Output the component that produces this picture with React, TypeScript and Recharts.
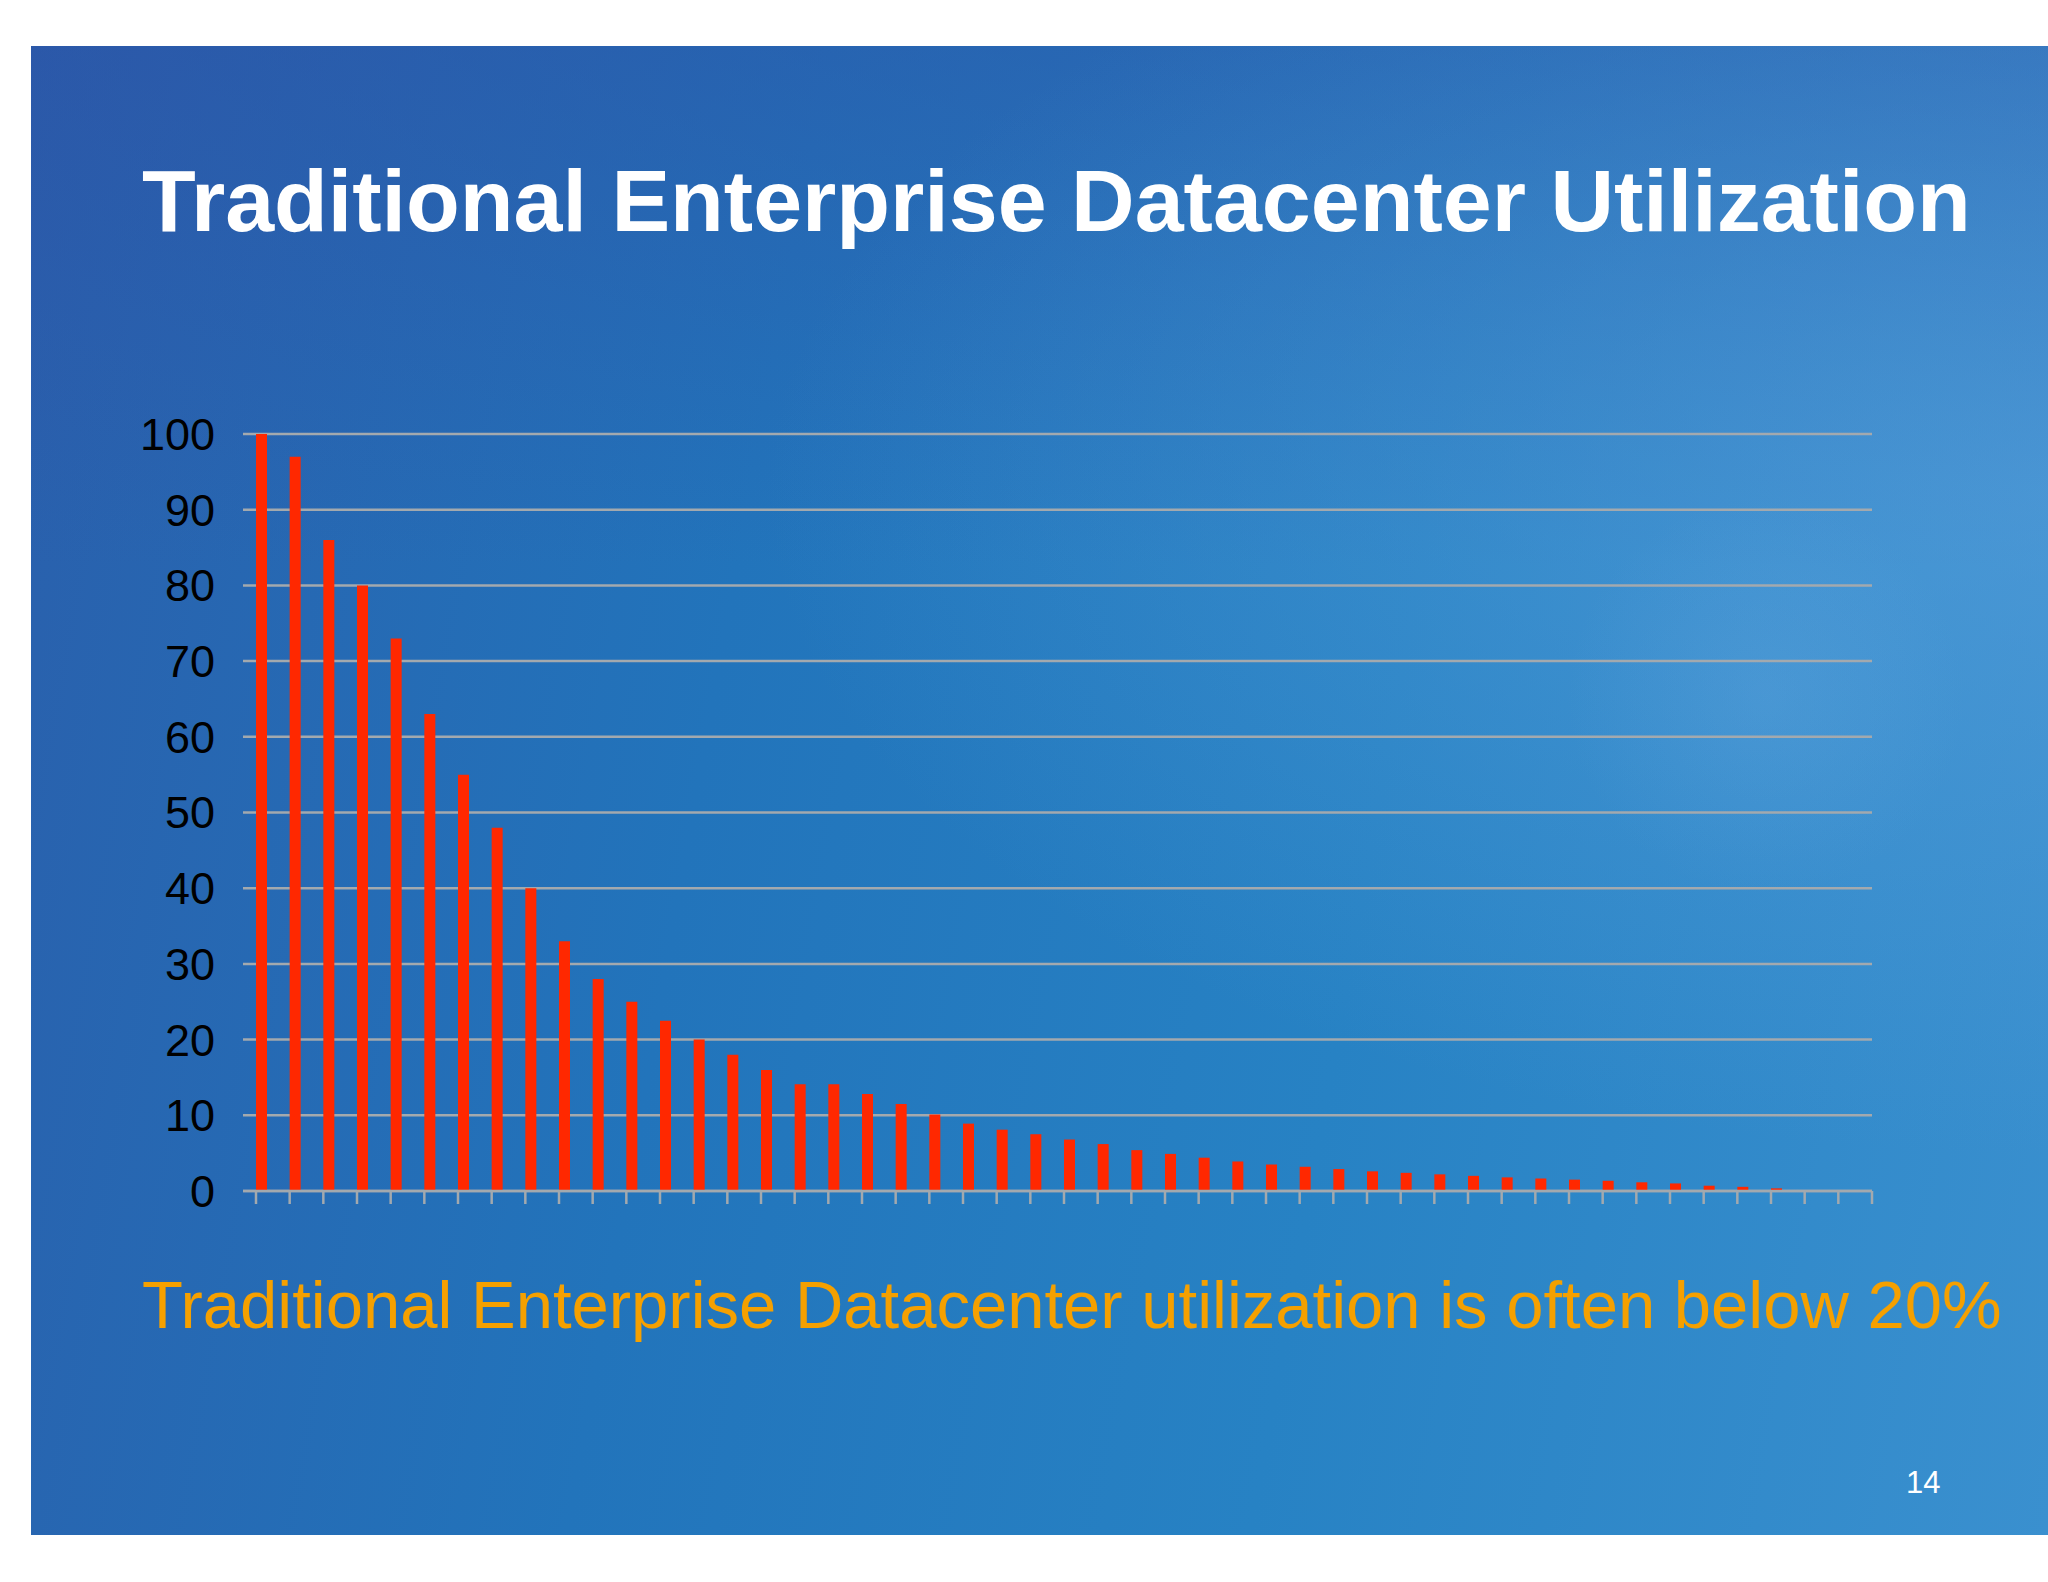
import React from 'react';
import { BarChart, Bar, XAxis, YAxis, CartesianGrid } from 'recharts';

// server slots along the x axis (no labels are shown on the slide)
const servers = [
  '1', '2', '3', '4', '5', '6', '7', '8', '9', '10', '11', '12',
  '13', '14', '15', '16', '17', '18', '19', '20', '21', '22', '23', '24',
  '25', '26', '27', '28', '29', '30', '31', '32', '33', '34', '35', '36',
  '37', '38', '39', '40', '41', '42', '43', '44', '45', '46', '47', '48',
];

// utilization in %
const utilization = [
  100, 97, 86, 80, 73, 63, 55, 48, 40, 33, 28, 25,
  22.5, 20, 18, 16, 14.1, 14.1, 12.8, 11.5, 10.1, 8.9, 8.1, 7.5,
  6.8, 6.2, 5.4, 4.9, 4.4, 3.9, 3.5, 3.2, 2.9, 2.6, 2.4, 2.2,
  2.0, 1.8, 1.65, 1.5, 1.35, 1.15, 1.0, 0.7, 0.55, 0.35, 0, 0,
];

const yTicks = [0, 10, 20, 30, 40, 50, 60, 70, 80, 90, 100];

const title = 'Traditional Enterprise Datacenter Utilization';
const caption = 'Traditional Enterprise Datacenter utilization is often below 20%';
const pageNumber = '14';

const data = servers.map((server, i) => ({ server, utilization: utilization[i] }));

const FONT = '"Liberation Sans", Arial, Helvetica, sans-serif';
const GRID = '#a3a9ae';
const BAND_START = 256;
const BAND_END = 1872;
const bandWidth = (BAND_END - BAND_START) / servers.length;

// Excel style: tick marks sit on the category boundaries, not the centres
function BoundaryTick(props: any) {
  const { x, y, index } = props;
  const left = x - bandWidth / 2;
  return (
    <g>
      <line x1={left} y1={y} x2={left} y2={y + 13} stroke={GRID} strokeWidth={2.5} />
      {index === servers.length - 1 && (
        <line x1={left + bandWidth} y1={y} x2={left + bandWidth} y2={y + 13} stroke={GRID} strokeWidth={2.5} />
      )}
    </g>
  );
}

export default function App() {
  return (
    <div style={{ position: 'absolute', left: 0, top: 0, width: 2048, height: 1582, background: '#fff', overflow: 'hidden' }}>
      {/* slide background */}
      <div
        style={{
          position: 'absolute', left: 31, top: 46, width: 2017, height: 1489,
          background:
            'radial-gradient(circle at 1735px 650px, rgba(120,180,230,0.18) 0px, rgba(120,180,230,0) 200px),' +
            'radial-gradient(ellipse at 100% 30%, rgba(90,160,220,0.55) 0%, rgba(90,160,220,0) 45%),' +
            'linear-gradient(180deg, rgba(45,80,165,0.45) 0%, rgba(45,80,165,0) 35%),' +
            'linear-gradient(100deg, #2a5fac 0%, #2274bb 35%, #2782c4 65%, #3a90cf 100%)',
        }}
      />

      <div style={{ position: 'absolute', left: 0, top: 0 }}>
        <BarChart
          width={2048}
          height={1250}
          data={data}
          margin={{ top: 434, right: 176, bottom: 29, left: 0 }}
          barSize={11}
          barGap={0}
        >
          <CartesianGrid vertical={false} stroke={GRID} strokeWidth={2.5} />
          <XAxis
            dataKey="server"
            height={30}
            padding={{ left: 13, right: 0 }}
            interval={0}
            axisLine={{ stroke: GRID, strokeWidth: 2.5 }}
            tickLine={false}
            tickSize={0}
            tickMargin={0}
            tick={<BoundaryTick />}
          />
          <YAxis
            width={243}
            domain={[0, 100]}
            ticks={yTicks}
            axisLine={false}
            tickLine={false}
            tickSize={0}
            tickMargin={28}
            tick={{ fill: '#000', fontSize: 45, fontFamily: FONT }}
          />
          <Bar dataKey="utilization" fill="#ff2800" isAnimationActive={false} />
          {/* empty series keep the red bar at the left of each slot, as in the original */}
          <Bar dataKey="padA" fill="none" isAnimationActive={false} />
          <Bar dataKey="padB" fill="none" isAnimationActive={false} />
        </BarChart>
      </div>

      <svg width={2048} height={1582} style={{ position: 'absolute', left: 0, top: 0, pointerEvents: 'none' }}>
        <text x={142} y={231} fill="#fff" fontSize={88} fontWeight="bold" fontFamily={FONT}>{title}</text>
        <text x={142} y={1328} fill="#f5a000" fontSize={67} fontFamily={FONT}>{caption}</text>
        <text x={1906} y={1493} fill="#fff" fontSize={31} fontFamily={FONT}>{pageNumber}</text>
      </svg>
    </div>
  );
}
